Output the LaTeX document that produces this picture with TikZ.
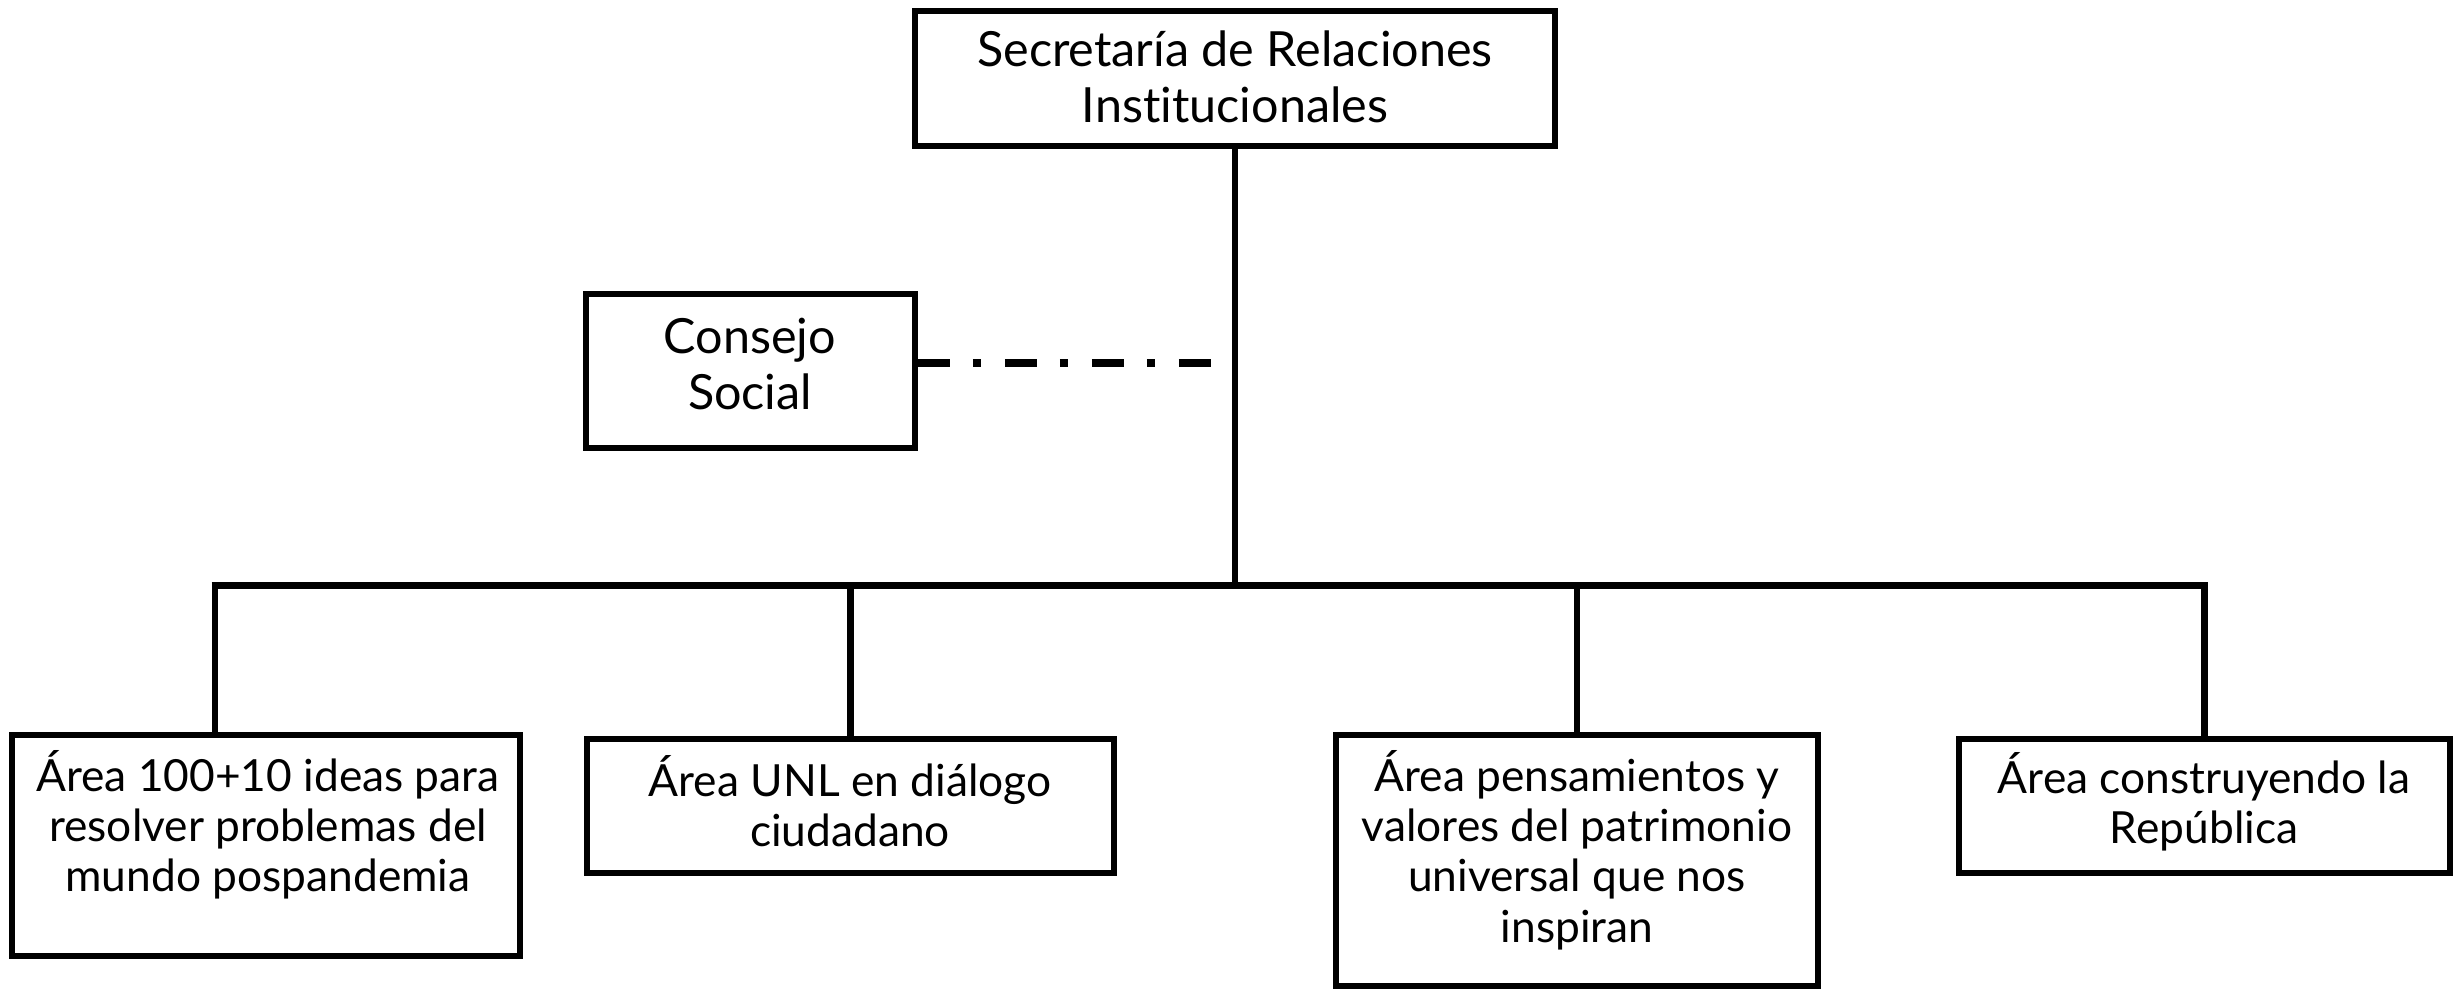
\documentclass[tikz,border=0pt]{standalone}
\usepackage{fontspec}
\setmainfont{Lato}[Ligatures=NoCommon]
\begin{document}
\begin{tikzpicture}[x=0.1mm,y=-0.1mm,
  box/.style={draw=black, line width=0.55mm, inner sep=0pt, rectangle},
  bigtxt/.style={align=center, inner sep=0pt, font=\fontsize{13.8}{15.8}\selectfont},
  smalltxt/.style={align=center, inner sep=0pt, font=\fontsize{12.6}{14.3}\selectfont},
  conn/.style={line width=0.65mm},
  busline/.style={line width=0.7mm},
  dashdotline/.style={line width=0.8mm, dash pattern=on 3.2mm off 2.3mm on 0.8mm off 2.4mm}]
\useasboundingbox (0,0) rectangle (2458,990);
% boxes
\node[box, minimum width=64mm, minimum height=13.5mm] (sec) at (1235,78.5) {};
\node[bigtxt] (tsec) at (1235,77) {Secretaría de Relaciones\\Institucionales};
\node[box, minimum width=32.9mm, minimum height=15.4mm] (cs) at (750.5,371) {};
\node[bigtxt] (tcs) at (750,364) {Consejo\\Social};
\node[box, minimum width=50.8mm, minimum height=22.1mm] (b1) at (266,845.5) {};
\node[smalltxt] (tb1) at (268,825) {Área 100+10 ideas para\\resolver problemas del\\mundo pospandemia};
\node[box, minimum width=52.7mm, minimum height=13.4mm] (b2) at (850.5,806) {};
\node[smalltxt] (tb2) at (850,801) {Área UNL en diálogo\\ciudadano};
\node[box, minimum width=48.2mm, minimum height=25.1mm] (b3) at (1577,860.5) {};
\node[smalltxt] (tb3) at (1577,850) {Área pensamientos y\\valores del patrimonio\\universal que nos\\inspiran};
\node[box, minimum width=49.1mm, minimum height=13.4mm] (b4) at (2204.5,806) {};
\node[smalltxt] (tb4) at (2204,802) {Área construyendo la\\República};
% connectors
\coordinate (busL) at (215,585.5);
\coordinate (busR) at (2204.5,585.5);
\coordinate (dashend) at (1212,363);
\draw[conn] (sec.south) -- (sec.south |- busL);
\draw[busline] ([xshift=-0.35mm]busL) -- ([xshift=0.35mm]busR);
\draw[conn] (busL) -- (busL |- b1.north);
\draw[conn] (b2.north |- busL) -- (b2.north);
\draw[conn] (b3.north |- busL) -- (b3.north);
\draw[conn] (busR) -- (b4.north);
\draw[dashdotline] (cs.east |- dashend) -- (dashend);
\end{tikzpicture}
\end{document}
